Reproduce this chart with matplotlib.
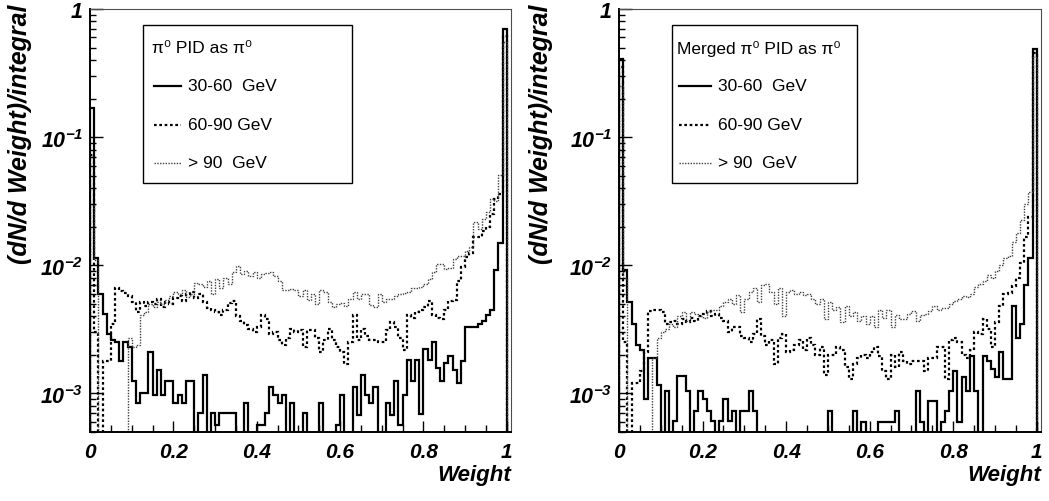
import numpy as np
import matplotlib
matplotlib.use("Agg")
import matplotlib.pyplot as plt
from matplotlib.patches import Rectangle
from matplotlib.lines import Line2D
from matplotlib.ticker import LogLocator, NullFormatter, MultipleLocator

plt.rcParams['mathtext.fontset'] = 'custom'
plt.rcParams['mathtext.rm'] = 'Liberation Sans:italic:bold'
plt.rcParams['mathtext.it'] = 'Liberation Sans:italic:bold'
plt.rcParams['mathtext.bf'] = 'Liberation Sans:italic:bold'

# 100 bins of "Weight" between 0 and 1, normalised to the integral
edges = np.linspace(0.0, 1.0, 101)

# left panel: pi0 identified as pi0
pi0_30_60 = [0.17, 0.0115, 0.0060, 0.0042, 0.0029, 0.0026, 0.0025, 0.0018, 0.0025, 0.0023,
             0.00124, 0.00084, 0.00101, 0.00101, 0.0021, 0.00098, 0.00153, 0.00098, 0.00124, 0.00124,
             0.00084, 0.00098, 0.00084, 0.00126, 0.00126, 0, 0.0007, 0.0014, 0, 0.0007,
             0.00057, 0.0007, 0.0007, 0.0007, 0.0007, 0, 0, 0.00084, 0, 0,
             0.00057, 0.00057, 0.0007, 0.00112, 0.00098, 0.00084, 0.00098, 0, 0.00084, 0,
             0, 0.0007, 0, 0, 0, 0.00084, 0, 0, 0, 0.00057,
             0.00098, 0, 0, 0.00112, 0.00068, 0.0014, 0.00098, 0.00084, 0.00112, 0,
             0, 0.00084, 0.00068, 0.00124, 0.00057, 0.00098, 0.00181, 0.00124, 0.00181, 0.00069,
             0.00222, 0.00181, 0.0025, 0.00158, 0.00124, 0.00173, 0.00197, 0.00152, 0.0012, 0.0018,
             0.0033, 0.0033, 0.0033, 0.0035, 0.0037, 0.0041, 0.0045, 0.0092, 0.0148, 0.70]
pi0_60_90 = [0.072, 0.003, 0, 0.0018, 0.0018, 0.0035, 0.0066, 0.0063, 0.0061, 0.0058,
             0.0052, 0.0043, 0.0052, 0.0048, 0.0052, 0.0050, 0.0055, 0.0047, 0.0052, 0.0050,
             0.0056, 0.0058, 0.0053, 0.0060, 0.0062, 0.0056, 0.0060, 0.0052, 0.0046, 0.0045,
             0.0043, 0.0041, 0.0045, 0.0051, 0.0053, 0.0040, 0.0037, 0.0034, 0.0032, 0.0030,
             0.0033, 0.0041, 0.0038, 0.0029, 0.0030, 0.0026, 0.0024, 0.0027, 0.0032, 0.0030,
             0.0031, 0.0023, 0.0031, 0.0031, 0.0027, 0.0021, 0.0026, 0.0032, 0.0026, 0.0023,
             0.0021, 0.0017, 0.0025, 0.0041, 0.0026, 0.0032, 0.0028, 0.0026, 0.0026, 0.0025,
             0.0025, 0.0031, 0.0036, 0.0033, 0.0027, 0.0022, 0.0041, 0.0039, 0.0043, 0.0045,
             0.0047, 0.0053, 0.0041, 0.0039, 0.0038, 0.0045, 0.0053, 0.0054, 0.0075, 0.0097,
             0.0117, 0.0125, 0.0167, 0.0165, 0.0185, 0.020, 0.025, 0.033, 0.036, 0.62]
pi0_90 = [0.03, 0.011, 0, 0, 0, 0, 0, 0, 0, 0.0027,
          0.0023, 0.0024, 0.0041, 0.0043, 0.0050, 0.0047, 0.0052, 0.0050, 0.0054, 0.0058,
          0.0062, 0.0060, 0.0064, 0.0057, 0.0060, 0.0073, 0.0072, 0.0068, 0.0075, 0.0060,
          0.0078, 0.0066, 0.0080, 0.0072, 0.0088, 0.0098, 0.0085, 0.0090, 0.0082, 0.0088,
          0.0080, 0.0085, 0.0087, 0.0089, 0.0083, 0.0075, 0.0064, 0.0064, 0.0065, 0.0064,
          0.0058, 0.0064, 0.0054, 0.0060, 0.0050, 0.0064, 0.0062, 0.0052, 0.0047, 0.0050,
          0.0051, 0.0048, 0.0055, 0.0062, 0.0055, 0.0060, 0.0060, 0.0049, 0.0047, 0.0060,
          0.0052, 0.0055, 0.0055, 0.0058, 0.0060, 0.0061, 0.0062, 0.0066, 0.0066, 0.0068,
          0.0072, 0.0078, 0.0088, 0.0102, 0.0102, 0.0093, 0.0096, 0.0111, 0.0118, 0.0118,
          0.0129, 0.0140, 0.0218, 0.0193, 0.023, 0.026, 0.033, 0.032, 0.051, 0.55]

# right panel: merged pi0 identified as pi0
mpi0_30_60 = [0.41, 0.0092, 0.0052, 0.0035, 0.0024, 0.0022, 0.0009, 0.0019, 0.0019, 0.00117,
              0, 0.00104, 0, 0.00061, 0.00136, 0.00136, 0.00104, 0, 0.00073, 0.00104,
              0.0009, 0.00073, 0.00061, 0, 0.00061, 0.0009, 0.00061, 0.00073, 0, 0.00073,
              0.00073, 0.00104, 0.00073, 0, 0, 0, 0, 0, 0, 0,
              0, 0, 0, 0, 0, 0, 0, 0, 0, 0,
              0.00073, 0, 0, 0, 0, 0, 0.00073, 0, 0.0006, 0,
              0, 0, 0.0006, 0.0006, 0.0006, 0.0006, 0.00073, 0, 0, 0,
              0, 0.00104, 0.0006, 0, 0.00088, 0.00088, 0, 0.0006, 0.00073, 0.00104,
              0.00149, 0.0006, 0.00134, 0.00104, 0.00195, 0.00104, 0, 0.00195, 0.0018, 0.00155,
              0.00134, 0.0021, 0.0013, 0.0013, 0.0048, 0.0027, 0.0035, 0.0070, 0.0113, 0.49]
mpi0_60_90 = [0.35, 0.0025, 0, 0.0012, 0.0012, 0.0015, 0.0021, 0.0044, 0.0045, 0.0045,
              0.0043, 0.0035, 0.0036, 0.0037, 0.0035, 0.0038, 0.0036, 0.0039, 0.0037, 0.0040,
              0.0042, 0.0044, 0.0040, 0.0042, 0.0039, 0.0037, 0.0030, 0.0033, 0.0033, 0.0028,
              0.0027, 0.0025, 0.0029, 0.0038, 0.0028, 0.0024, 0.0026, 0.0017, 0.0027, 0.0029,
              0.0021, 0.0022, 0.0024, 0.0026, 0.0022, 0.0027, 0.0024, 0.0020, 0.0023, 0.0014,
              0.0020, 0.0020, 0.0023, 0.0022, 0.0016, 0.0013, 0.0017, 0.0019, 0.0020, 0.0019,
              0.0021, 0.0023, 0.00195, 0.0015, 0.0013, 0.0020, 0.0016, 0.0021, 0.0018, 0.0017,
              0.0018, 0.0018, 0.0018, 0.0015, 0.0019, 0.0019, 0.0023, 0.0023, 0.0013, 0.0026,
              0.0027, 0.0025, 0.0020, 0.0019, 0.0022, 0.0030, 0.0029, 0.0038, 0.0032, 0.0023,
              0.0036, 0.0048, 0.0060, 0.0061, 0.0069, 0.0079, 0.0104, 0.0167, 0.024, 0.45]
mpi0_90 = [0.25, 0.008, 0, 0, 0, 0, 0, 0, 0.0019, 0.0027,
           0.0030, 0.0032, 0.0035, 0.0033, 0.0040, 0.0043, 0.0037, 0.0043, 0.0042, 0.0040,
           0.0039, 0.0043, 0.0045, 0.0045, 0.0048, 0.0052, 0.0055, 0.0050, 0.0059, 0.0043,
           0.0055, 0.0062, 0.0066, 0.0052, 0.0070, 0.0072, 0.0062, 0.0050, 0.0066, 0.0040,
           0.0062, 0.0064, 0.0060, 0.0062, 0.0059, 0.0060, 0.0055, 0.0050, 0.0055, 0.0038,
           0.0052, 0.0045, 0.0047, 0.0036, 0.0048, 0.0040, 0.0043, 0.0037, 0.0040, 0.0035,
           0.0040, 0.0033, 0.0045, 0.0039, 0.0045, 0.0033, 0.0041, 0.0038, 0.0038, 0.0042,
           0.0044, 0.0037, 0.0041, 0.0042, 0.0044, 0.0048, 0.0045, 0.0046, 0.0046, 0.0050,
           0.0053, 0.0055, 0.0058, 0.0057, 0.0060, 0.0068, 0.0072, 0.0075, 0.0084, 0.0080,
           0.0090, 0.0101, 0.0113, 0.0119, 0.0152, 0.018, 0.0225, 0.030, 0.037, 0.42]

energy_labels = ["30-60  GeV", "60-90 GeV", "> 90  GeV"]
titles = ["\u03c0\u2070 PID as \u03c0\u2070", "Merged \u03c0\u2070 PID as \u03c0\u2070"]
xtick_vals = [0, 0.2, 0.4, 0.6, 0.8, 1.0]
xtick_labels = ["0", "0.2", "0.4", "0.6", "0.8", "1"]
ytick_vals = [1e-3, 1e-2, 1e-1, 1]
ytick_labels = [r"$10^{-3}$", r"$10^{-2}$", r"$10^{-1}$", r"$1$"]

styles = [dict(color="black", lw=1.6, ls="-"),
          dict(color="black", lw=1.6, ls=(0, (1.2, 1.2))),
          dict(color="0.25", lw=1.0, ls=(0, (1, 1)))]

floor = 1e-6
fig = plt.figure(figsize=(10.49, 5.02), dpi=100)
axes = [fig.add_axes([90 / 1049, 1 - 433 / 502, 421 / 1049, 423 / 502]),
        fig.add_axes([619 / 1049, 1 - 433 / 502, 422 / 1049, 423 / 502])]
panels = [(pi0_30_60, pi0_60_90, pi0_90), (mpi0_30_60, mpi0_60_90, mpi0_90)]
boxes = [(0.126, 0.622, 0.147, 0.233), (0.125, 0.564, 0.137, 0.235)]
ylab_x = [-0.138, -0.156]

for ax, series, box, title, lx in zip(axes, panels, boxes, titles, ylab_x):
    ax.set_yscale("log")
    for vals, st in zip(series, styles):
        v = np.array(vals, dtype=float)
        v = np.where(v > 0, v, floor)
        ax.stairs(v, edges, baseline=floor, **st)
    ax.set_xlim(0, 1.01)
    ax.set_ylim(5e-4, 1)

    for side in ["top", "right"]:
        ax.spines[side].set_color("0.3")
        ax.spines[side].set_linewidth(0.8)
    for side in ["left", "bottom"]:
        ax.spines[side].set_color("black")
        ax.spines[side].set_linewidth(1.4)

    ax.set_xticks(xtick_vals, xtick_labels, fontsize=15, fontweight="bold",
                  fontstyle="italic", family="Liberation Sans")
    ax.xaxis.set_minor_locator(MultipleLocator(0.05))
    ax.set_yticks(ytick_vals, ytick_labels, fontsize=15.5)
    ax.yaxis.set_minor_locator(LogLocator(base=10, subs=np.arange(2, 10)))
    ax.yaxis.set_minor_formatter(NullFormatter())
    ax.tick_params(axis="both", which="both", direction="in", top=False, right=False, width=1)
    ax.tick_params(axis="y", which="major", length=9.5, pad=5)
    ax.tick_params(axis="y", which="minor", length=4.5)
    ax.tick_params(axis="x", which="major", length=8, pad=7)
    ax.tick_params(axis="x", which="minor", length=5)

    ax.set_ylabel("(dN/d Weight)/integral", fontsize=18, fontweight="bold",
                  fontstyle="italic", family="Liberation Sans", loc="top")
    ax.yaxis.set_label_coords(lx, 1.012)
    ax.set_xlabel("Weight", fontsize=16, fontweight="bold", fontstyle="italic",
                  family="Liberation Sans", loc="right")
    ax.xaxis.set_label_coords(1.0, -0.075)

    # legend box drawn the ROOT way: fixed frame, header + three entries
    x0, x1, tx, lt = box
    ax.add_patch(Rectangle((x0, 0.589), x1 - x0, 0.374, transform=ax.transAxes,
                           fill=True, facecolor="white", edgecolor="black", lw=1.0, zorder=5))
    ax.text(tx, 0.908, title, transform=ax.transAxes, fontsize=12.5, va="center",
            family=["Liberation Sans", "DejaVu Sans"], zorder=6)
    for yy, lab, st in zip([0.818, 0.726, 0.636], energy_labels, styles):
        ax.add_line(Line2D([tx + 0.005, lt - 0.017], [yy, yy], transform=ax.transAxes,
                           zorder=6, **st))
        ax.text(lt, yy, lab, transform=ax.transAxes, fontsize=12.5, va="center",
                family="Liberation Sans", zorder=6)

fig.savefig("out.png", dpi=100)
